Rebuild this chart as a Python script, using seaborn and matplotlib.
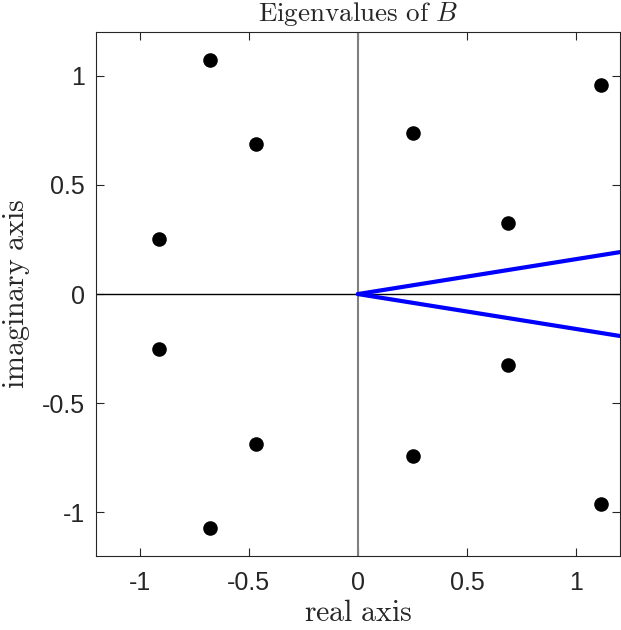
"""Eigenvalues of B in the complex plane."""

import numpy as np
import pandas as pd
import matplotlib
matplotlib.use("Agg")
import matplotlib.pyplot as plt
import seaborn as sns

# eigenvalues (upper half plane, conjugates added below)
eig_real_upper = [-0.676, -0.465, -0.913, 0.251, 0.687, 1.115]
eig_imag_upper = [1.074, 0.686, 0.253, 0.740, 0.327, 0.960]

# blue wedge rays from the origin
ray_x = [0.0, 1.2]
ray_y_upper = [0.0, 0.192]
ray_y_lower = [0.0, -0.192]

ticks = [-1, -0.5, 0, 0.5, 1]
tick_labels = ["-1", "-0.5", "0", "0.5", "1"]

eig = pd.DataFrame({
    "re": eig_real_upper + eig_real_upper,
    "im": eig_imag_upper + [-v for v in eig_imag_upper],
})
rays = pd.concat([
    pd.DataFrame({"x": ray_x, "y": ray_y_upper, "ray": "upper"}),
    pd.DataFrame({"x": ray_x, "y": ray_y_lower, "ray": "lower"}),
])

sns.set_style("ticks")
plt.rcParams["font.family"] = ["Liberation Sans", "DejaVu Sans"]
plt.rcParams["mathtext.fontset"] = "cm"

fig = plt.figure(figsize=(6.21, 6.30), dpi=100)
ax = fig.add_axes([0.1546, 0.1175, 0.8434, 0.8315])

ax.axhline(0, color="black", lw=1.0, zorder=1)
ax.axvline(0, color="#808080", lw=1.5, zorder=1)

sns.lineplot(data=rays, x="x", y="y", units="ray", estimator=None, sort=False,
             color="#0000ff", lw=3, ax=ax, zorder=2)
sns.scatterplot(data=eig, x="re", y="im", color="black", s=110,
                edgecolor="black", linewidth=0, ax=ax, zorder=3)

ax.set_xlim(-1.2, 1.2)
ax.set_ylim(-1.2, 1.2)
ax.set_xticks(ticks)
ax.set_xticklabels(tick_labels)
ax.set_yticks(ticks)
ax.set_yticklabels(tick_labels)
ax.tick_params(direction="in", top=True, right=True, length=6, width=0.8,
               labelsize=18, colors="#262626", pad=8)
ax.tick_params(axis="x", pad=11)
for sp in ax.spines.values():
    sp.set_linewidth(0.8)
    sp.set_color("#262626")

ax.set_xlabel(r"$\mathrm{real\ axis}$", fontsize=21.5, labelpad=3)
ax.set_ylabel(r"$\mathrm{imaginary\ axis}$", fontsize=21.5, labelpad=7)
ax.set_title(r"$\mathrm{Eigenvalues\ of\ }B$", fontsize=19.5, pad=8)

plt.savefig("out.png", dpi=100)
plt.close()
